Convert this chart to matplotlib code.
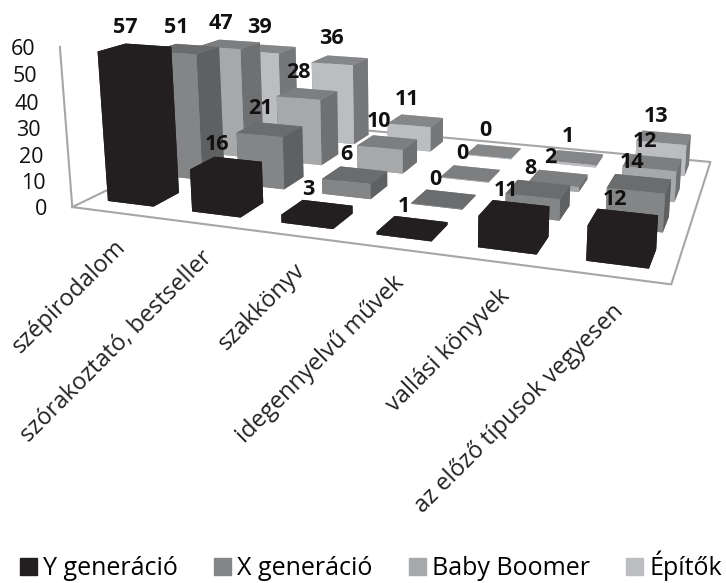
# Könyvtípusok generációnként - 3D oszlopdiagram
import numpy as np
import matplotlib
matplotlib.use("Agg")
import matplotlib.pyplot as plt
from matplotlib.patches import Patch
from mpl_toolkits.mplot3d import proj3d

plt.rcParams["font.family"] = ["Open Sans", "DejaVu Sans"]

categories = ["szépirodalom", "szórakoztató, bestseller", "szakkönyv",
              "idegennyelvű művek", "vallási könyvek", "az előző típusok vegyesen"]
series_names = ["Y generáció", "X generáció", "Baby Boomer", "Építők"]

y_gen = [57, 16, 3, 1, 11, 12]
x_gen = [51, 21, 6, 0, 8, 14]
baby_boomer = [47, 28, 10, 0, 2, 12]
epitok = [39, 36, 11, 0, 1, 13]
z_ticks = [0, 10, 20, 30, 40, 50, 60]

# face colours: bottom, top, front, back, left, right
face_colors = [
    ["#231f20"] * 6,
    ["#848587", "#6b6c6e", "#848587", "#848587", "#5f6062", "#5f6062"],
    ["#a7a8aa", "#7d7e80", "#a7a8aa", "#a7a8aa", "#6f7072", "#6f7072"],
    ["#bcbdc0", "#858688", "#bcbdc0", "#bcbdc0", "#76777a", "#76777a"],
]
legend_colors = ["#231f20", "#848587", "#a7a8aa", "#bcbdc0"]

values = np.array([y_gen, x_gen, baby_boomer, epitok], dtype=float)

W, H = 726, 583
side = 661.3
fig = plt.figure(figsize=(W / 100, H / 100), dpi=100)
ax = fig.add_axes([73.2 / W, (H - 448.9) / H, side / W, side / H], projection="3d")
ax.set_proj_type("persp", focal_length=0.303)
ax.view_init(elev=13.532, azim=-70.342)
ax.set_box_aspect((6, 3.883, 1.66), zoom=1)
ax.set_xlim(0, 6)
ax.set_ylim(0, 4)
ax.set_zlim(0, 60)
ax.set_axis_off()

# oszlopok
bw, bd = 0.55, 0.5
xs, ys, hs, cols = [], [], [], []
for s in range(4):
    for c in range(6):
        xs.append(c + (1 - bw) / 2)
        ys.append(s + 0.3)
        hs.append(max(values[s, c], 0.3))
        cols += face_colors[s]
ax.bar3d(xs, ys, 0, bw, bd, hs, color=cols, shade=False, linewidth=0)

# padló és tengely
ax.plot([0, 6, 6, 0, 0], [0, 0, 4, 4, 0], 0, color="#a6a6a8", lw=1.5, zorder=0, clip_on=False)
ax.plot([0, 0], [0, 0], [0, 60], color="#a6a6a8", lw=1.5, zorder=0, clip_on=False)


def label(x, y, z, text, dx=0, dy=0, **kw):
    # 3D pont -> 2D, mert a Text3D nem forgat
    px, py, _ = proj3d.proj_transform(x, y, z, ax.get_proj())
    ax.annotate(text, (px, py), xytext=(dx, dy), textcoords="offset pixels",
                annotation_clip=False, zorder=100, **kw)


for t in z_ticks:
    label(0, 0, t, str(t), dx=-25, dy=-2.5, fontsize=15.5, ha="right", va="center", color="#111111")

for c, name in enumerate(categories):
    label(c + 0.5, 0, 0, name, dx=8, dy=-31, fontsize=17, rotation=45, ha="right", va="center",
          rotation_mode="anchor", color="#222222")

for s in range(4):
    for c in range(6):
        label(c + 0.5, s + 0.5, values[s, c], str(int(values[s, c])), dx=-7, dy=22, fontsize=15.5,
              fontweight="bold", ha="center", va="center", color="#111111")

handles = [Patch(color=col, label=n) for col, n in zip(legend_colors, series_names)]
fig.legend(handles=handles, loc="lower left", bbox_to_anchor=(-0.004, -0.036), ncol=4, frameon=False,
           fontsize=18, handlelength=0.68, handleheight=0.68, handletextpad=0.26, columnspacing=1.44)

fig.savefig("out.png", dpi=100)
